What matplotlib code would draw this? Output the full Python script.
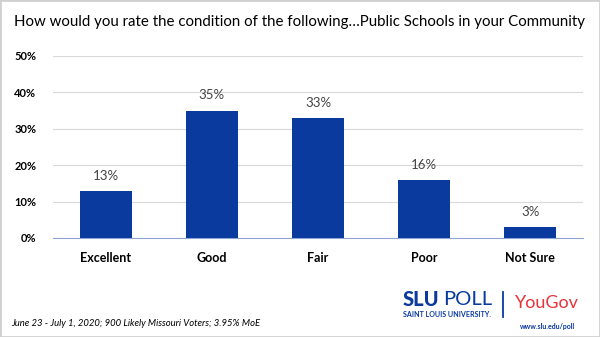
import matplotlib.pyplot as plt
from matplotlib.patches import Rectangle

categories = ["Excellent", "Good", "Fair", "Poor", "Not Sure"]
values = [13, 35, 33, 16, 3]
y_ticks = [0, 10, 20, 30, 40, 50]

blue = "#0a3a9e"
plt.rcParams["font.family"] = ["Lato", "DejaVu Sans"]

fig = plt.figure(figsize=(6, 3.37), dpi=100)
fig.patches.append(Rectangle((0, 0), 1, 1, transform=fig.transFigure,
                             fill=False, edgecolor="#d0d0d0", linewidth=2))

ax = fig.add_axes([0.088, 0.294, 0.884, 0.54])
x = list(range(len(categories)))
ax.bar(x, values, width=0.49, color=blue, zorder=3)
for xi, v in zip(x, values):
    ax.text(xi, v + 2.5, f"{v}%", ha="center", va="bottom",
            fontsize=9.5, color="#444444")

ax.set_xlim(-0.5, 4.5)
ax.set_ylim(0, 50)
ax.set_yticks(y_ticks)
ax.set_yticklabels([f"{t}%" for t in y_ticks], fontsize=8, fontweight="bold")
ax.set_xticks(x)
ax.set_xticklabels(categories, fontsize=9, fontweight="bold")
ax.tick_params(length=0, pad=10)
ax.tick_params(axis="y", pad=12)
ax.grid(axis="y", color="#d9d9d9", linewidth=0.8, zorder=0)
for s in ["top", "right", "left"]:
    ax.spines[s].set_visible(False)
ax.spines["bottom"].set_color("#8fa5d6")
ax.spines["bottom"].set_linewidth(0.8)

fig.text(0.5, 0.935, "How would you rate the condition of the following…Public Schools in your Community",
         ha="center", va="center", fontsize=10.8)
fig.text(0.018, 0.04, "June 23 - July 1, 2020; 900 Likely Missouri Voters; 3.95% MoE",
         ha="left", va="center", fontsize=6.8, style="italic")

# logo text
slu = fig.text(0.671, 0.11, "SLU", ha="left", va="center", fontsize=14.5,
               fontweight="black", color=blue)
fig.canvas.draw()
bb = slu.get_window_extent().transformed(fig.transFigure.inverted())
fig.text(bb.x1 + 0.006, 0.11, "POLL", ha="left", va="center", fontsize=14.5, color=blue)
fig.text(0.671, 0.066, "SAINT LOUIS UNIVERSITY.", ha="left", va="center",
         fontsize=5.1, fontweight="bold", color=blue)
fig.add_artist(plt.Line2D([0.838, 0.838], [0.06, 0.135], color=blue, linewidth=1.3))
fig.text(0.858, 0.1, "YouGov", ha="left", va="center", fontsize=13, color="#e8343a")
fig.text(0.912, 0.03, "www.slu.edu/poll", ha="center", va="center", fontsize=5,
         fontweight="bold", color=blue)

fig.savefig("out.png", dpi=100)
